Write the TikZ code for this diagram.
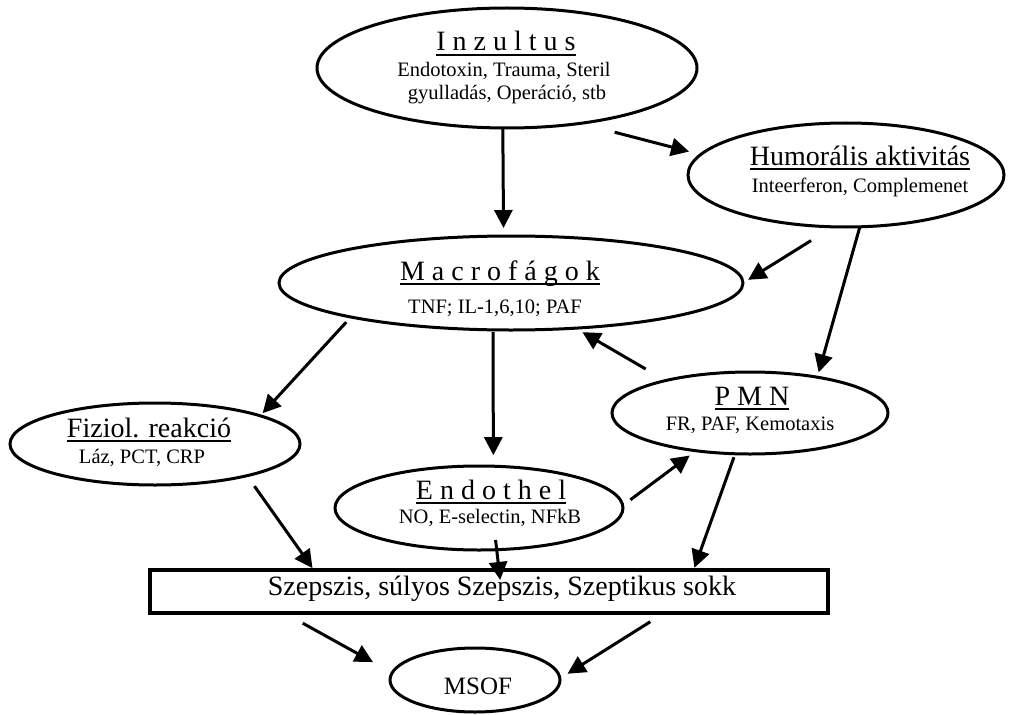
\documentclass[tikz,border=0pt]{standalone}
\usepackage{fontspec}
\setmainfont{Liberation Serif}
\usetikzlibrary{arrows.meta,shapes.geometric}
% underlined heading with a rule a little below the baseline
\newcommand\myul[1]{\setbox0\hbox{#1}\rlap{\rule[-5pt]{\wd0}{2pt}}\box0}
\begin{document}
\begin{tikzpicture}[x=1pt,y=-1pt,
  oval/.style={draw, line width=3pt, ellipse, inner sep=0pt, outer sep=0pt},
  box/.style={draw, line width=3.5pt, rectangle, inner sep=0pt, outer sep=0pt},
  head/.style={anchor=base, inner sep=0pt, font=\fontsize{28}{30}\selectfont},
  sub/.style={anchor=base, inner sep=0pt, font=\fontsize{20.5}{23}\selectfont},
  arr/.style={line width=3pt, -{Triangle[length=18pt,width=18pt]}},
]
\useasboundingbox (0,0) rectangle (1024,714);

% shapes
\node[oval, minimum width=380pt, minimum height=120pt] (inz)  at (507,68)    {};
\node[oval, minimum width=316pt, minimum height=104pt] (hum)  at (846,175)   {};
\node[oval, minimum width=464pt, minimum height=94pt]  (mac)  at (511,283)   {};
\node[oval, minimum width=290pt, minimum height=82pt]  (fiz)  at (155,444)   {};
\node[oval, minimum width=288pt, minimum height=84pt]  (endo) at (479,508)   {};
\node[oval, minimum width=276pt, minimum height=82pt]  (pmn)  at (750,413)   {};
\node[box,  minimum width=678pt, minimum height=43pt]  (sz)   at (489,591.5) {};
\node[oval, minimum width=170pt, minimum height=64pt]  (msof) at (475,680)   {};

% texts
\node[head] (inz-h)  at (506,51)  {\myul{I n z u l t u s}};
\node[sub]  (inz-a)  at (504,77)  {Endotoxin, Trauma, Steril};
\node[sub]  (inz-b)  at (507,100) {gyulladás, Operáció, stb};
\node[head] (hum-h)  at (860,165) {\myul{Humorális aktivitás}};
\node[sub]  (hum-a)  at (860,192) {Inteerferon, Complemenet};
\node[head] (mac-h)  at (500,280) {\myul{M a c r o f á g o k}};
\node[sub]  (mac-a)  at (495,313) {TNF; IL-1,6,10; PAF};
\node[head] (fiz-h)  at (149,437) {\myul{Fiziol. reakció}};
\node[sub]  (fiz-a)  at (142,463) {Láz, PCT, CRP};
\node[head] (endo-h) at (491,499) {\myul{E n d o t h e l}};
\node[sub]  (endo-a) at (490,523) {NO, E-selectin, NFkB};
\node[head] (pmn-h)  at (752,405) {\myul{P M N}};
\node[sub]  (pmn-a)  at (750,430) {FR, PAF, Kemotaxis};
\node[head] (sz-t)   at (502,595) {Szepszis, súlyos Szepszis, Szeptikus sokk};
\node[head, font=\fontsize{25}{27}\selectfont] (msof-t) at (478,694) {MSOF};

% connectors
\draw[arr, shorten >=8pt] (inz.-94.8) -- (mac.99.6);
\draw[arr, shorten <=35.3pt, shorten >=12pt] (inz.-37.6) -- (hum.172.5);
\draw[arr, shorten <=26pt, shorten >=6pt] (hum.-104) -- (mac.0.7);
\draw[arr, shorten >=5pt] (hum.-75.5) -- (pmn.28.8);
\draw[arr, shorten <=23pt, shorten >=8pt] (pmn.159.1) -- (mac.-35.8);
\draw[arr, shorten <=7pt, shorten >=3.5pt] (mac.-168.2) -- (fiz.15.2);
\draw[arr, shorten <=2pt, shorten >=11pt] (mac.-111) -- (endo.71.5);
\draw[arr, shorten <=9.6pt, shorten >=8pt] (endo.1.76) -- (pmn.-145.2);
\draw[arr, shorten <=12.8pt, shorten >=2.3pt] (fiz.-19.1) -- (sz.173.54);
\draw[arr, shorten <=-9.8pt, shorten >=-10pt] (endo.-67.6) -- (sz.65.6);
\draw[arr, shorten <=3.7pt, shorten >=2.3pt] (pmn.-110.3) -- (sz.6.9);
\draw[arr, shorten <=21pt, shorten >=22pt] (sz.-174.14) -- (msof.175.7);
\draw[arr, shorten <=16.4pt, shorten >=9pt] (sz.-7.85) -- (msof.1.0);
\end{tikzpicture}
\end{document}
